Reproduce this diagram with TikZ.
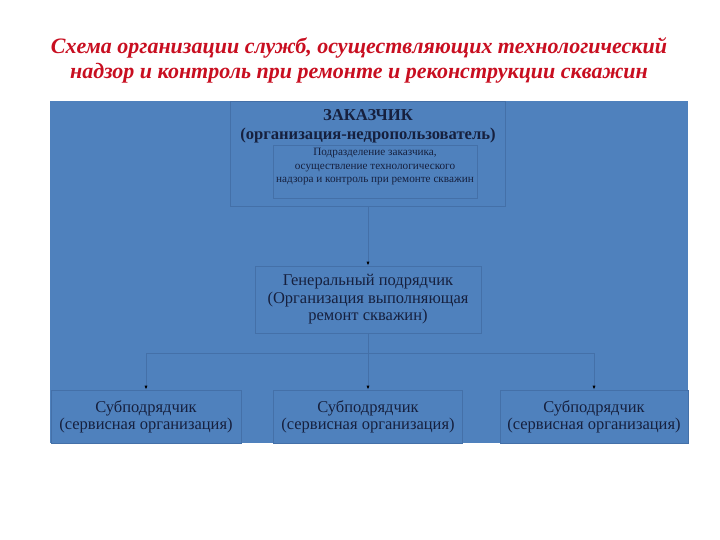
\documentclass[tikz,border=0pt]{standalone}
\usepackage{fontspec}
\setmainfont{Liberation Serif}
\usetikzlibrary{arrows.meta}
\definecolor{slide}{RGB}{79,129,189}
\definecolor{frame}{RGB}{68,112,168}
\definecolor{ink}{RGB}{22,32,62}
\definecolor{headred}{RGB}{200,14,32}
\tikzset{
  box/.style={draw=frame, line width=0.8pt, fill=slide, inner sep=0pt, align=center, text=ink},
  link/.style={draw=frame, line width=0.8pt, -{Latex[length=4pt,width=3.2pt,color=black]}}
}
\begin{document}
\begin{tikzpicture}[x=1pt, y=-1pt, every node/.style={align=center}]
\useasboundingbox (0,0) rectangle (720,540);

% title
\node[text=headred, font=\bfseries\itshape\fontsize{22}{25}\selectfont] (title) at (359,60)
  {Схема организации служб, осуществляющих технологический\\надзор и контроль при ремонте и реконструкции скважин};

\fill[slide] (50,101) rectangle (688,443);

% customer
\node[box, minimum width=275pt, minimum height=105pt] (zak) at (368,153.5) {};
\node[text=ink, font=\bfseries\fontsize{16.6}{18.5}\selectfont, anchor=north] (zaktxt) at (368,106)
  {ЗАКАЗЧИК\\(организация-недропользователь)};
\node[box, minimum width=204pt, minimum height=53pt, font=\fontsize{11.2}{13.2}\selectfont] (podr) at (375,171.5)
  {Подразделение заказчика,\\осуществление технологического\\надзора и контроль при ремонте скважин\\[-1pt]};

% general contractor
\node[box, minimum width=226pt, minimum height=67pt, font=\fontsize{16.5}{17.5}\selectfont] (gen) at (368,299.5)
  {Генеральный подрядчик\\(Организация выполняющая\\ремонт скважин)};

% subcontractors
\node[box, minimum width=190pt, minimum height=53pt, font=\fontsize{16.5}{17}\selectfont] (sub1) at (146,416.5)
  {Субподрядчик\\(сервисная организация)};
\node[box, minimum width=189pt, minimum height=53pt, font=\fontsize{16.5}{17}\selectfont] (sub2) at (368,416.5)
  {Субподрядчик\\(сервисная организация)};
\node[box, minimum width=188pt, minimum height=53pt, font=\fontsize{16.5}{17}\selectfont] (sub3) at (594,416.5)
  {Субподрядчик\\(сервисная организация)};

\coordinate (bus) at (368,353);
\draw[link] (zak.south) -- (gen.north);
\draw[link] (gen.south) -- (sub2.north);
\draw[link] (bus) -| (sub1.north);
\draw[link] (bus) -| (sub3.north);

\end{tikzpicture}
\end{document}
